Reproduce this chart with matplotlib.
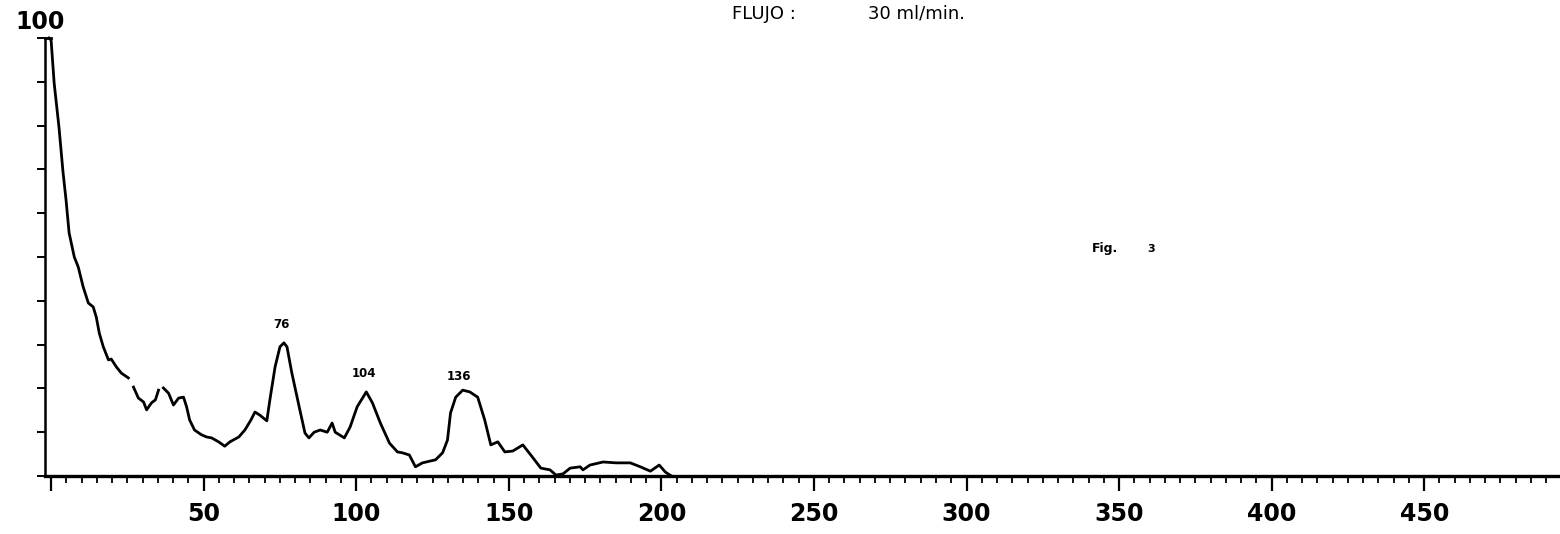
import numpy as np
import matplotlib.pyplot as plt
from matplotlib.ticker import FixedLocator

# traced chromatogram (elution volume, % signal); nan = pen gap
vol = [-0.7, 0.0, 1.0, 2.6, 3.9, 4.9, 5.9, 7.6, 8.9, 10.5, 12.2, 13.8, 14.8, 15.8,
       17.1, 18.8, 19.7, 21.4, 23.0, 25.3, 26.0,
       27.0, 28.6, 30.3, 31.3, 32.9, 34.2, 35.2, 36.0,
       36.8, 38.5, 40.1, 41.8, 43.4, 44.4, 45.4, 47.0, 49.3, 51.0, 52.6, 54.9,
       56.9, 58.6, 61.5, 63.5, 65.5, 66.8, 68.4, 70.7, 71.7, 73.4, 75.0, 76.3,
       77.3, 78.9, 81.3, 83.2, 84.5, 86.2, 88.2, 90.5, 92.1, 93.1, 96.1, 98.0,
       100.3, 103.3, 105.3, 107.9, 110.9, 113.5, 115.1, 117.4, 119.4, 121.7,
       126.0, 128.3, 129.9, 130.9, 132.6, 134.9, 137.2, 139.8, 142.1, 144.1,
       146.4, 148.7, 151.3, 154.6, 157.2, 160.5, 163.5, 165.5, 167.8, 170.1,
       173.4, 174.3, 176.6, 180.9, 185.2, 189.8, 193.1, 196.4, 199.3, 201.3, 203.3]
signal = [100, 99.5, 89.7, 79.5, 69.4, 63.0, 55.5, 50.0, 47.7, 43.2, 39.5, 38.6, 36.3, 32.6,
          29.5, 26.5, 26.7, 24.9, 23.5, 22.4, np.nan,
          20.3, 17.8, 16.9, 15.1, 16.7, 17.4, 19.6, np.nan,
          20.1, 18.9, 16.2, 17.8, 18.0, 15.8, 12.8, 10.5, 9.4, 8.9, 8.7, 7.8,
          6.8, 7.8, 8.9, 10.5, 12.8, 14.6, 13.9, 12.6, 17.4, 24.9, 29.5, 30.4,
          29.5, 23.5, 15.8, 9.8, 8.7, 10.0, 10.5, 10.0, 12.1, 10.0, 8.7, 11.2,
          15.8, 19.2, 16.7, 12.1, 7.5, 5.5, 5.3, 4.8, 2.1, 3.0,
          3.7, 5.3, 8.2, 14.4, 18.0, 19.6, 19.2, 18.0, 12.8, 7.1,
          7.8, 5.5, 5.7, 7.1, 4.8, 1.8, 1.4, 0.2, 0.5, 1.8,
          2.1, 1.4, 2.5, 3.2, 3.0, 3.0, 2.1, 1.1, 2.5, 0.9, 0.0]

peak_labels = ['76', '104', '136']
peak_x = [75.4, 102.6, 133.8]
peak_y = [34.5, 23.3, 22.8]

major_x = list(range(0, 451, 50))
major_lbl = [''] + [str(v) for v in major_x[1:]]
minor_x = [v for v in range(0, 495, 5) if v % 50 != 0]
y_ticks = list(range(0, 101, 10))

fig = plt.figure(figsize=(15.6, 5.34), dpi=100)
ax = fig.add_axes([45 / 1560, 58 / 534, 1 - 45 / 1560, 438 / 534])

ax.plot(vol, signal, color='black', lw=2.0, clip_on=False)
ax.plot([-2, 0], [100, 100], color='black', lw=2.0, clip_on=False)

ax.set_xlim(-2, 494.5)
ax.set_ylim(0, 100)

for s in ('top', 'right'):
    ax.spines[s].set_visible(False)
ax.spines['left'].set_linewidth(1.8)
ax.spines['bottom'].set_linewidth(2.4)

ax.xaxis.set_major_locator(FixedLocator(major_x))
ax.xaxis.set_minor_locator(FixedLocator(minor_x))
ax.set_xticklabels(major_lbl, fontsize=17, fontweight='bold')
ax.tick_params(axis='x', which='major', direction='out', length=11, width=1.6, pad=8)
ax.tick_params(axis='x', which='minor', direction='out', length=5, width=1.3)

ax.set_yticks(y_ticks)
ax.set_yticklabels([])
ax.tick_params(axis='y', direction='out', length=6, width=1.4)

ax.text(-3.6, 103.7, '100', fontsize=17, fontweight='bold', ha='center', va='center', clip_on=False)

for lbl, px, py in zip(peak_labels, peak_x, peak_y):
    ax.text(px, py, lbl, fontsize=8.5, fontweight='bold', ha='center', va='center')

fig.text(732 / 1560, 1 - 14 / 534, 'FLUJO :', fontsize=13, ha='left', va='center')
fig.text(868 / 1560, 1 - 14 / 534, '30 ml/min.', fontsize=13, ha='left', va='center')
fig.text(1092 / 1560, 1 - 249 / 534, 'Fig.', fontsize=9, fontweight='bold', ha='left', va='center')
fig.text(1147 / 1560, 1 - 249 / 534, '3', fontsize=8, fontweight='bold', ha='left', va='center')

fig.savefig('out.png', dpi=100)
